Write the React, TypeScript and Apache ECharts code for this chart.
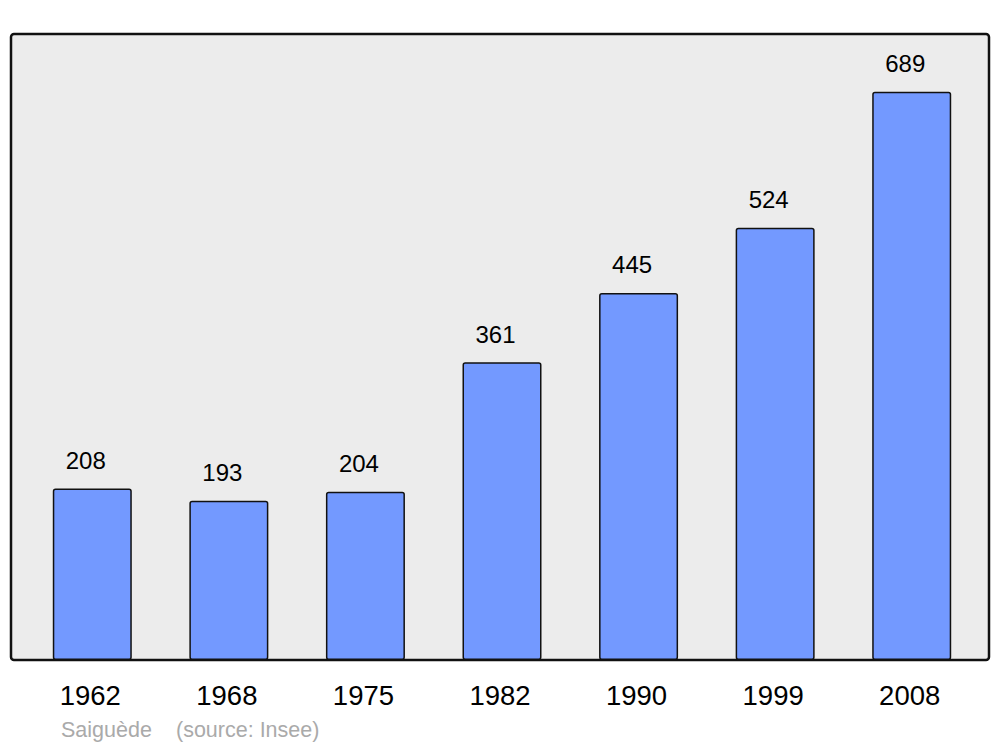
import React, { useEffect, useRef } from "react";
import * as echarts from "echarts";

const years = ["1962", "1968", "1975", "1982", "1990", "1999", "2008"];
const population = [208, 193, 204, 361, 445, 524, 689];
const placeName = "Saiguède";
const sourceText = "(source: Insee)";

export default function App() {
  const ref = useRef<HTMLDivElement>(null);
  useEffect(() => {
    document.body.style.margin = "0";
    const chart = echarts.init(ref.current!, null, { renderer: "svg" });
    chart.setOption({
      animation: false,
      backgroundColor: "#ffffff",
      textStyle: { fontFamily: "Liberation Sans, Arial, sans-serif" },
      grid: { left: 24, right: 20, top: 34, bottom: 87 },
      xAxis: {
        type: "category",
        data: years,
        axisLine: { show: false },
        axisTick: { show: false },
        axisLabel: {
          color: "#000",
          fontSize: 27.5,
          margin: 21,
          padding: [0, 4, 0, 0],
          verticalAlign: "top",
          fontFamily: "Liberation Sans, Arial, sans-serif",
        },
      },
      yAxis: {
        type: "value",
        min: 0,
        max: 759,
        show: false,
        splitLine: { show: false },
      },
      graphic: [
        {
          type: "rect",
          z: -10,
          shape: { x: 11, y: 34, width: 978, height: 626, r: 3 },
          style: { fill: "#ececec", stroke: "#111", lineWidth: 2.5 },
        },
        {
          type: "text",
          x: 61,
          y: 730,
          style: {
            text: placeName,
            fill: "#aaaaaa",
            fontSize: 21.5,
            fontFamily: "Liberation Sans, Arial, sans-serif",
            verticalAlign: "middle",
          },
        },
        {
          type: "text",
          x: 176,
          y: 730,
          style: {
            text: sourceText,
            fill: "#aaaaaa",
            fontSize: 21.5,
            fontFamily: "Liberation Sans, Arial, sans-serif",
            verticalAlign: "middle",
          },
        },
      ],
      series: [
        {
          type: "bar",
          data: population,
          barWidth: 79,
          itemStyle: {
            color: "#7399ff",
            borderColor: "#111",
            borderWidth: 1.5,
            borderRadius: 2,
          },
          label: {
            show: true,
            position: "top",
            distance: 16,
            offset: [-6.5, 0],
            color: "#000",
            fontSize: 24,
            fontFamily: "Liberation Sans, Arial, sans-serif",
          },
        },
      ],
    });
    return () => chart.dispose();
  }, []);
  return (
    <div
      ref={ref}
      style={{ position: "absolute", left: 0, top: 0, width: 1000, height: 747 }}
    />
  );
}
